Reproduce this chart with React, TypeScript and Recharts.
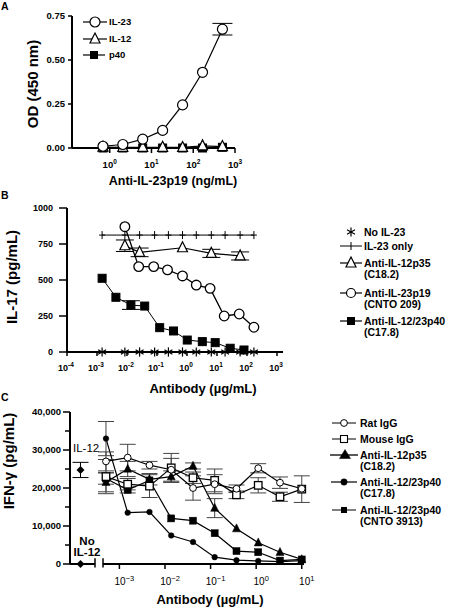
import React from 'react';
import { LineChart, Line, XAxis, YAxis, ErrorBar, ReferenceLine } from 'recharts';

const FONT = '"Liberation Sans", Arial, Helvetica, sans-serif';

// ---------------- Panel A ----------------
const aConc = [0.69, 2.06, 6.17, 18.5, 55.6, 167, 500];
const aIL23 = [0.01, 0.02, 0.05, 0.1, 0.245, 0.43, 0.675];
const aIL23Err = [0, 0, 0, 0, 0, 0, 0.033];
const aIL12 = [0.005, 0.004, 0.004, 0.004, 0.003, 0.012, 0.008];
const aP40 = [0, 0, 0, 0, 0, 0, 0.004];
const aXTicks = [1, 10, 100, 1000];
const aYTicks = [0, 0.25, 0.5, 0.75];

// ---------------- Panel B ----------------
const bCtrlConc = [0.00148, 0.0085, 0.0263, 0.0832, 0.24, 0.708, 2.04, 6.46, 18.6, 58.9, 170];
const bNoIL23 = [0, 0, 0, 0, 0, 0, 0, 0, 0, 0, 0];
const bIL23Only = [812, 812, 812, 812, 812, 812, 812, 812, 812, 812, 812];
const bP35Conc = [0.0085, 0.0263, 0.708, 6.46, 58.9];
const bP35 = [738, 692, 724, 685, 667];
const bP35Err = [40, 30, 0, 28, 28];
const bP19Conc = [0.0085, 0.0245, 0.0776, 0.224, 0.708, 2.04, 5.89, 17.4, 55, 170];
const bP19 = [870, 593, 593, 570, 528, 465, 442, 250, 264, 172];
const bP40Conc = [0.00148, 0.00427, 0.0135, 0.0389, 0.123, 0.355, 1.02, 3.24, 8.7, 27.5, 79.4];
const bP40 = [512, 380, 326, 319, 169, 146, 83, 72, 65, 26, 14];
const bP40Err = [0, 0, 30, 0, 0, 0, 0, 0, 0, 0, 0];
const bXTicks = [0.0001, 0.001, 0.01, 0.1, 1, 10, 100, 1000];
const bYTicks = [0, 250, 500, 750, 1000];

// ---------------- Panel C ----------------
const cConc = [0.000508, 0.00152, 0.00457, 0.0137, 0.0412, 0.123, 0.37, 1.11, 3.33, 10];
const cRat = [27000, 28000, 26000, 24800, 20000, 21000, 19800, 25200, 21400, 19800];
const cRatErr = [2500, 3500, 1000, 3000, 3200, 2500, 1000, 1200, 1500, 0];
const cMouse = [23000, 21000, 20500, 25300, 22700, 22000, 18200, 20700, 17700, 19700];
const cMouseErr = [4500, 1500, 3000, 3800, 1500, 3000, 1000, 2000, 1200, 3500];
const cP35 = [21500, 25000, 22300, 23000, 25800, 14700, 9300, 5600, 3100, 1200];
const cP35Err = [2500, 2000, 1500, 1500, 800, 2500, 0, 0, 0, 0];
const cC178 = [33000, 13500, 13700, 7500, 5800, 1800, 1000, 800, 600, 900];
const cC178Err = [4500, 0, 0, 0, 0, 0, 0, 0, 0, 0];
const cCnto = [22500, 19500, 22000, 12000, 11400, 8100, 3400, 3100, 900, 1200];
const cCntoErr = [1500, 800, 0, 0, 0, 0, 0, 0, 0, 0];
const cCtrlPos = [0.42];
const cIL12Ctrl = [24750];
const cIL12CtrlErr = [2000];
const cNoIL12Ctrl = [0];
const cXTicks = [0.001, 0.01, 0.1, 1, 10];
const cYTicks = [0, 5000, 10000, 15000, 20000, 25000, 30000, 35000, 40000];

const rows = (xs: number[], ys: number[], es?: number[]) =>
  xs.map((x, i) => ({ x, y: ys[i], e: es && es[i] ? es[i] : undefined }));

// ---------------- markers ----------------
const circleDot = (r: number, fill: string, sw: number) => (p: any) =>
  p.cx == null ? null : <circle key={`c${p.index}`} cx={p.cx} cy={p.cy} r={r} fill={fill} stroke="#000" strokeWidth={sw} />;
const squareDot = (s: number, fill: string, sw: number) => (p: any) =>
  p.cx == null ? null : <rect key={`s${p.index}`} x={p.cx - s / 2} y={p.cy - s / 2} width={s} height={s} fill={fill} stroke="#000" strokeWidth={sw} />;
const triDot = (s: number, fill: string, sw: number) => (p: any) =>
  p.cx == null ? null : (
    <polygon key={`t${p.index}`} points={`${p.cx},${p.cy - s * 0.6} ${p.cx - s / 2},${p.cy + s * 0.4} ${p.cx + s / 2},${p.cy + s * 0.4}`} fill={fill} stroke="#000" strokeWidth={sw} strokeLinejoin="miter" />
  );
const diamondDot = (s: number) => (p: any) =>
  p.cx == null ? null : <polygon key={`d${p.index}`} points={`${p.cx},${p.cy - s} ${p.cx + s},${p.cy} ${p.cx},${p.cy + s} ${p.cx - s},${p.cy}`} fill="#000" />;
const plusDot = (h: number, w: number) => (p: any) =>
  p.cx == null ? null : (
    <g key={`p${p.index}`}>
      <line x1={p.cx} x2={p.cx} y1={p.cy - h} y2={p.cy + h} stroke="#000" strokeWidth={1} />
      <line x1={p.cx - w} x2={p.cx + w} y1={p.cy} y2={p.cy} stroke="#000" strokeWidth={1} />
    </g>
  );
const starDot = (r: number) => (p: any) =>
  p.cx == null ? null : (
    <g key={`a${p.index}`} stroke="#000" strokeWidth={1.2}>
      <line x1={p.cx} x2={p.cx} y1={p.cy - r} y2={p.cy + r} />
      <line x1={p.cx - r * 0.87} x2={p.cx + r * 0.87} y1={p.cy - r * 0.5} y2={p.cy + r * 0.5} />
      <line x1={p.cx - r * 0.87} x2={p.cx + r * 0.87} y1={p.cy + r * 0.5} y2={p.cy - r * 0.5} />
    </g>
  );

// ---------------- ticks ----------------
const makeLogTick = (o: { dy: number; fs: number; sfs: number; sup: number; weight: number; minus: string; shift: number }) => (props: any) => {
  const { x, y, payload } = props;
  const exp = Math.round(Math.log10(payload.value));
  const es = exp < 0 ? o.minus + Math.abs(exp) : String(exp);
  return (
    <text x={x + o.shift} y={y + o.dy} textAnchor="middle" fontFamily={FONT} fontSize={o.fs} fontWeight={o.weight} fill="#000">
      <tspan>10</tspan>
      <tspan dy={-o.sup} fontSize={o.sfs}>{es}</tspan>
    </text>
  );
};
const tickA = makeLogTick({ dy: 13, fs: 9.5, sfs: 6.5, sup: 4, weight: 700, minus: '-', shift: 0 });
const tickB = makeLogTick({ dy: 13, fs: 9, sfs: 6.5, sup: 4, weight: 700, minus: '-', shift: -1 });
const tickC = makeLogTick({ dy: 14, fs: 10, sfs: 7.5, sup: 4, weight: 400, minus: '\u2212', shift: 5 });

const fmtThousands = (v: number) => String(v).replace(/\B(?=(\d{3})+(?!\d))/g, ',');
const cYTick = (p: any) => {
  const v = p.payload.value;
  const major = v % 10000 === 0;
  return (
    <g>
      <line x1={major ? 63 : 65} x2={70} y1={p.y} y2={p.y} stroke="#000" strokeWidth={1.5} />
      {major && (
        <text x={61} y={p.y + 3.3} textAnchor="end" fontFamily={FONT} fontSize={9.5} fontWeight={700} fill="#000">
          {fmtThousands(v)}
        </text>
      )}
    </g>
  );
};

const AX = { stroke: '#000', strokeWidth: 2 };
const TL = { stroke: '#000', strokeWidth: 1.5 };
const yTickStyle = (fs: number) => ({ fontSize: fs, fontWeight: 700, fill: '#000', fontFamily: FONT });

// ---------------- legend helpers ----------------
const LText = ({ x, y, children, fs = 10.5 }: any) => (
  <text x={x} y={y + fs * 0.36} fontFamily={FONT} fontSize={fs} fontWeight={700} fill="#000">{children}</text>
);

export default function App() {
  return (
    <div style={{ position: 'absolute', left: 0, top: 0, width: 452, height: 608, background: '#fff', overflow: 'hidden', fontFamily: FONT }}>
      {/* Panel A */}
      <div style={{ position: 'absolute', left: 0, top: 0 }}>
        <LineChart width={260} height={200} margin={{ top: 16, right: 25, bottom: 22, left: 0 }}>
          <XAxis dataKey="x" type="number" scale="log" domain={[0.125, 1000]} ticks={aXTicks} interval={0} tick={tickA} tickSize={5} height={30} axisLine={AX} tickLine={TL} />
          <YAxis type="number" domain={[0, 0.75]} ticks={aYTicks} interval={0} width={72} tickSize={4} tickMargin={3} tickFormatter={(v: number) => v.toFixed(2)} tick={yTickStyle(9.5)} axisLine={AX} tickLine={TL} />
          <Line data={rows(aConc, aP40)} dataKey="y" stroke="#000" strokeWidth={1.2} dot={squareDot(8, '#000', 1)} isAnimationActive={false} activeDot={false} />
          <Line data={rows(aConc, aIL12)} dataKey="y" stroke="#000" strokeWidth={1.2} dot={triDot(10, '#fff', 1.2)} isAnimationActive={false} activeDot={false} />
          <Line data={rows(aConc, aIL23, aIL23Err)} dataKey="y" stroke="#000" strokeWidth={1.2} dot={circleDot(5, '#fff', 1.2)} isAnimationActive={false} activeDot={false}>
            <ErrorBar dataKey="e" direction="y" width={10} stroke="#000" strokeWidth={1} />
          </Line>
        </LineChart>
      </div>

      {/* Panel B */}
      <div style={{ position: 'absolute', left: 0, top: 190 }}>
        <LineChart width={300} height={200} margin={{ top: 18, right: 17, bottom: 8, left: 0 }}>
          <XAxis dataKey="x" type="number" scale="log" domain={[0.0001, 1585]} ticks={bXTicks} interval={0} tick={tickB} tickSize={4} height={30} axisLine={AX} tickLine={TL} />
          <YAxis type="number" domain={[0, 1000]} ticks={bYTicks} interval={0} width={67} tickSize={8} tickMargin={6} tick={yTickStyle(9)} axisLine={AX} tickLine={TL} />
          <Line data={rows(bCtrlConc, bIL23Only)} dataKey="y" stroke="#000" strokeWidth={1} dot={plusDot(4, 3)} isAnimationActive={false} activeDot={false} />
          <Line data={rows(bP40Conc, bP40, bP40Err)} dataKey="y" stroke="#000" strokeWidth={1} dot={squareDot(8, '#000', 1)} isAnimationActive={false} activeDot={false}>
            <ErrorBar dataKey="e" direction="y" width={9} stroke="#000" strokeWidth={1} />
          </Line>
          <Line data={rows(bP35Conc, bP35, bP35Err)} dataKey="y" stroke="#000" strokeWidth={1.2} dot={triDot(10, '#fff', 1.2)} isAnimationActive={false} activeDot={false}>
            <ErrorBar dataKey="e" direction="y" width={9} stroke="#000" strokeWidth={1} />
          </Line>
          <Line data={rows(bP19Conc, bP19)} dataKey="y" stroke="#000" strokeWidth={1.3} dot={circleDot(4.8, '#fff', 1.3)} isAnimationActive={false} activeDot={false} />
          <Line data={rows(bCtrlConc, bNoIL23)} dataKey="y" stroke="none" strokeWidth={0} dot={starDot(4.6)} isAnimationActive={false} activeDot={false} />
        </LineChart>
      </div>

      {/* Panel C: main antibody segment */}
      <div style={{ position: 'absolute', left: 0, top: 395 }}>
        <LineChart width={330} height={213} margin={{ top: 17, right: 26, bottom: 14, left: 103 }}>
          <XAxis dataKey="x" type="number" scale="log" domain={[0.000437, 11.2]} ticks={cXTicks} interval={0} tick={tickC} tickSize={5} height={30} axisLine={AX} tickLine={TL} />
          <YAxis type="number" domain={[0, 40000]} hide />
          <ReferenceLine segment={[{ x: 0.000437, y: -900 }, { x: 0.000437, y: 1500 }]} stroke="#000" strokeWidth={1.5} ifOverflow="visible" />
          <Line data={rows(cConc, cP35, cP35Err)} dataKey="y" stroke="#000" strokeWidth={1.2} dot={triDot(8, '#000', 0.5)} isAnimationActive={false} activeDot={false}>
            <ErrorBar dataKey="e" direction="y" width={8} stroke="#444" strokeWidth={1} />
          </Line>
          <Line data={rows(cConc, cC178, cC178Err)} dataKey="y" stroke="#000" strokeWidth={1.2} dot={circleDot(2.8, '#000', 0.5)} isAnimationActive={false} activeDot={false}>
            <ErrorBar dataKey="e" direction="y" width={8} stroke="#444" strokeWidth={1} />
          </Line>
          <Line data={rows(cConc, cCnto, cCntoErr)} dataKey="y" stroke="#000" strokeWidth={1.2} dot={squareDot(7, '#000', 0.5)} isAnimationActive={false} activeDot={false}>
            <ErrorBar dataKey="e" direction="y" width={8} stroke="#444" strokeWidth={1} />
          </Line>
          <Line data={rows(cConc, cMouse, cMouseErr)} dataKey="y" stroke="#000" strokeWidth={1.2} dot={squareDot(7.5, '#fff', 1.3)} isAnimationActive={false} activeDot={false}>
            <ErrorBar dataKey="e" direction="y" width={8} stroke="#444" strokeWidth={1} />
          </Line>
          <Line data={rows(cConc, cRat, cRatErr)} dataKey="y" stroke="#000" strokeWidth={1.2} dot={circleDot(3.4, '#fff', 1)} isAnimationActive={false} activeDot={false}>
            <ErrorBar dataKey="e" direction="y" width={8} stroke="#444" strokeWidth={1} />
          </Line>
        </LineChart>
      </div>

      {/* Panel C: control segment with the y-axis */}
      <div style={{ position: 'absolute', left: 0, top: 395 }}>
        <LineChart width={110} height={213} margin={{ top: 17, right: 15, bottom: 14, left: 0 }}>
          <XAxis dataKey="x" type="number" domain={[0, 1]} tick={false} tickLine={false} height={30} axisLine={AX} />
          <YAxis type="number" domain={[0, 40000]} ticks={cYTicks} interval={0} width={70} tick={cYTick} tickLine={false} axisLine={AX} />
          <ReferenceLine segment={[{ x: 1, y: -900 }, { x: 1, y: 1500 }]} stroke="#000" strokeWidth={1.5} ifOverflow="visible" />
          <Line data={rows(cCtrlPos, cIL12Ctrl, cIL12CtrlErr)} dataKey="y" stroke="none" dot={diamondDot(4)} isAnimationActive={false} activeDot={false}>
            <ErrorBar dataKey="e" direction="y" width={8} stroke="#000" strokeWidth={1} />
          </Line>
          <Line data={rows(cCtrlPos, cNoIL12Ctrl)} dataKey="y" stroke="none" dot={diamondDot(4)} isAnimationActive={false} activeDot={false} />
        </LineChart>
      </div>

      {/* Text overlay: panel letters, axis titles, legends */}
      <svg width={452} height={608} style={{ position: 'absolute', left: 0, top: 0, pointerEvents: 'none' }}>
        <g fontFamily={FONT} fontWeight={700} fill="#000">
          <text x={1} y={10} fontSize={10.5}>A</text>
          <text x={1} y={199} fontSize={10.5}>B</text>
          <text x={1} y={401} fontSize={10.5}>C</text>

          <text x={173} y={184.5} fontSize={12.5} textAnchor="middle">Anti-IL-23p19 (ng/mL)</text>
          <text transform="translate(32,84) rotate(-90)" fontSize={15} textAnchor="middle" dominantBaseline="central">OD (450 nm)</text>

          <text x={203} y={392.5} fontSize={13} textAnchor="middle">Antibody (µg/mL)</text>
          <text transform="translate(11,277) rotate(-90)" fontSize={15} textAnchor="middle" dominantBaseline="central">IL-17 (pg/mL)</text>

          <text x={210} y={604} fontSize={13} textAnchor="middle">Antibody (µg/mL)</text>
          <text transform="translate(8,461) rotate(-90)" fontSize={15} textAnchor="middle" dominantBaseline="central">IFN-γ (pg/mL)</text>
        </g>

        {/* C control labels */}
        <text x={73} y={452} fontFamily={FONT} fontSize={11.5} fill="#000">IL-12</text>
        <text x={87} y={545} fontFamily={FONT} fontSize={11.5} fontWeight={700} textAnchor="middle" fill="#000">No</text>
        <text x={87} y={556} fontFamily={FONT} fontSize={11.5} fontWeight={700} textAnchor="middle" fill="#000">IL-12</text>

        {/* Legend A */}
        <g>
          <line x1={83} x2={107} y1={22} y2={22} stroke="#000" strokeWidth={1.2} />
          <circle cx={95} cy={22} r={5} fill="#fff" stroke="#000" strokeWidth={1.2} />
          <LText x={109} y={22} fs={9.5}>IL-23</LText>
          <line x1={83} x2={107} y1={39} y2={39} stroke="#000" strokeWidth={1.2} />
          <polygon points="95,33 90,43 100,43" fill="#fff" stroke="#000" strokeWidth={1.2} />
          <LText x={109} y={39} fs={9.5}>IL-12</LText>
          <line x1={83} x2={105} y1={55} y2={55} stroke="#000" strokeWidth={1.2} />
          <rect x={90} y={51} width={8} height={8} fill="#000" />
          <LText x={109} y={55} fs={9.5}>p40</LText>
        </g>

        {/* Legend B */}
        <g stroke="#000">
          <line x1={351} x2={351} y1={227.5} y2={236.5} strokeWidth={1.2} />
          <line x1={347} x2={355} y1={229.7} y2={234.3} strokeWidth={1.2} />
          <line x1={347} x2={355} y1={234.3} y2={229.7} strokeWidth={1.2} />
          <line x1={340} x2={362} y1={246} y2={246} strokeWidth={1} />
          <line x1={351} x2={351} y1={242} y2={250} strokeWidth={1} />
          <line x1={340} x2={362} y1={263} y2={263} strokeWidth={1.2} />
          <polygon points="351,257 346,267 356,267" fill="#fff" strokeWidth={1.2} />
          <line x1={340} x2={362} y1={293} y2={293} strokeWidth={1.2} />
          <circle cx={351} cy={293} r={4.5} fill="#fff" strokeWidth={1.2} />
          <line x1={340} x2={362} y1={321} y2={321} strokeWidth={1.2} />
          <rect x={347} y={317} width={8} height={8} fill="#000" stroke="none" />
        </g>
        <LText x={364} y={232}>No IL-23</LText>
        <LText x={364} y={246}>IL-23 only</LText>
        <LText x={364} y={263}>Anti-IL-12p35</LText>
        <LText x={364} y={274}>(C18.2)</LText>
        <LText x={364} y={293}>Anti-IL-23p19</LText>
        <LText x={364} y={304}>(CNTO 209)</LText>
        <LText x={364} y={321}>Anti-IL-12/23p40</LText>
        <LText x={364} y={332}>(C17.8)</LText>

        {/* Legend C */}
        <g stroke="#000">
          <line x1={332} x2={356} y1={423} y2={423} strokeWidth={1} />
          <circle cx={344} cy={423} r={3.4} fill="#fff" strokeWidth={1} />
          <line x1={332} x2={356} y1={439} y2={439} strokeWidth={1} />
          <rect x={340.5} y={435.5} width={7} height={7} fill="#fff" strokeWidth={1.1} />
          <line x1={330} x2={358} y1={455} y2={455} strokeWidth={1.3} />
          <polygon points="345,449.5 339.5,458.5 350.5,458.5" fill="#000" strokeWidth={0.5} />
          <line x1={331} x2={357} y1={482} y2={482} strokeWidth={1.2} />
          <circle cx={344} cy={482} r={3.2} fill="#000" strokeWidth={0.5} />
          <line x1={332} x2={356} y1={510} y2={510} strokeWidth={1} />
          <rect x={341} y={507} width={6} height={6} fill="#000" stroke="none" />
        </g>
        <LText x={360} y={423}>Rat IgG</LText>
        <LText x={360} y={439}>Mouse IgG</LText>
        <LText x={360} y={455}>Anti-IL-12p35</LText>
        <LText x={360} y={466}>(C18.2)</LText>
        <LText x={360} y={482}>Anti-IL-12/23p40</LText>
        <LText x={360} y={493}>(C17.8)</LText>
        <LText x={360} y={510}>Anti-IL-12/23p40</LText>
        <LText x={360} y={521}>(CNTO 3913)</LText>
      </svg>
    </div>
  );
}
